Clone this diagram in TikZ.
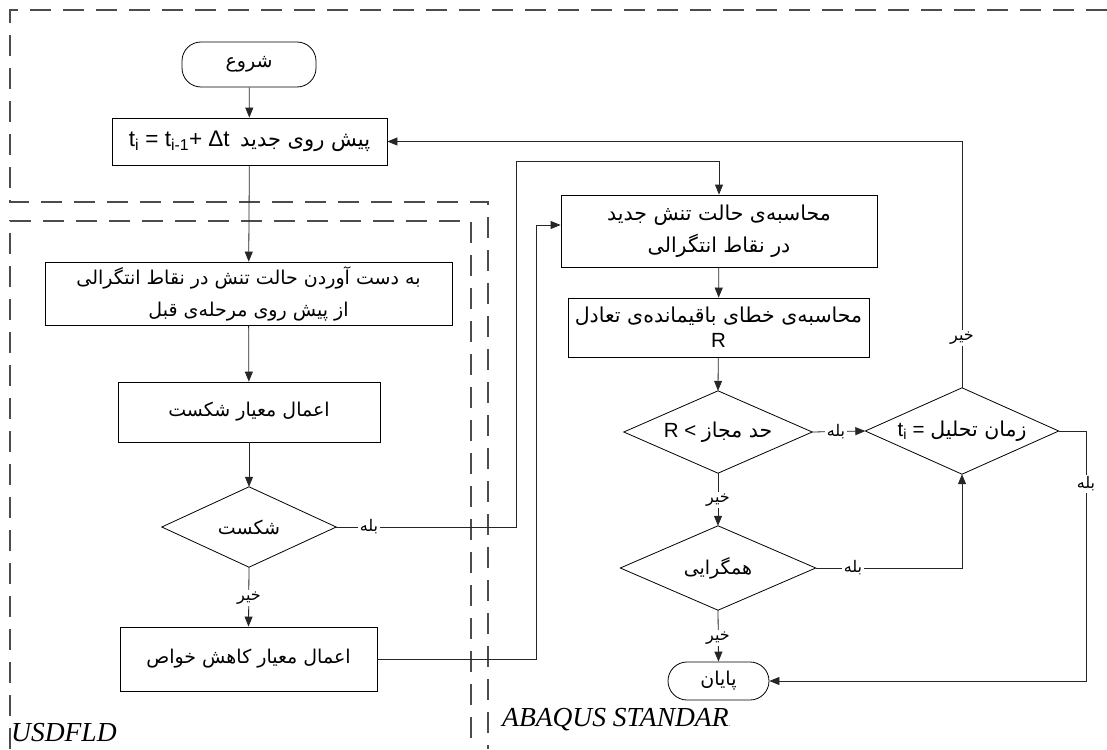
\documentclass[tikz,border=0pt]{standalone}
\usepackage{fontspec}
\setmainfont{Liberation Sans}
\newfontfamily\arabicfont[Script=Arabic]{DejaVu Sans}
\newfontfamily\timesfont{Liberation Serif}
\TeXXeTstate=1
\usetikzlibrary{arrows.meta,shapes.geometric}
\newcommand{\fatext}[1]{{\arabicfont\beginR #1\endR}}
\tikzset{
  frame/.style={draw=black!70, line width=1.1pt, dash pattern=on 21pt off 12pt},
  blk/.style={draw=black, line width=0.8pt, rectangle, align=center, inner sep=0pt,
              font=\fontsize{19}{32}\selectfont},
  bigtxt/.style={font=\fontsize{20.5}{32}\selectfont},
  term/.style={blk, rounded corners=19pt},
  dhold/.style={rectangle, align=center, inner sep=0pt, font=\fontsize{19}{24}\selectfont},
  diaedge/.style={draw=black, line width=0.8pt},
  conn/.style={draw=black!85, line width=0.8pt},
  arr/.style={conn, -{Triangle[length=10pt,width=8pt]}},
  lbl/.style={fill=white, inner sep=1.5pt, font=\fontsize{16}{16}\selectfont},
  region/.style={inner sep=0pt, font=\fontsize{27.5}{28}\selectfont\timesfont\itshape}
}
\begin{document}
\begin{tikzpicture}[x=1pt,y=-1pt]
\useasboundingbox (0,0) rectangle (1107,749);
% dashed regions
\draw[frame] (1107,10) -- (10,10) -- (10,202) -- (488,202) -- (488,749);
\draw[frame] (10,749) -- (10,221) -- (471,221) -- (471,749);

% nodes
\node[term, minimum width=134pt, minimum height=45pt] (start) at (249,64.5) {\fatext{شروع}};
\node[blk, minimum width=275pt, minimum height=47pt, font=\fontsize{21}{26}\selectfont] (b1) at (249.5,141.5)
  {{\fontsize{22.5}{26}\selectfont t\textsubscript{i} = t\textsubscript{i-1}+ Δt}\enspace\fatext{پیش روی جدید}};
\node[blk, minimum width=407pt, minimum height=63pt] (b2) at (248.5,293.5)
  {\fatext{به دست آوردن حالت تنش در نقاط انتگرالی}\\\fatext{از پیش روی مرحله‌ی قبل}};
\node[blk, minimum width=262pt, minimum height=60pt] (b3) at (249,412) {\fatext{اعمال معیار شکست}};
\node[dhold, minimum width=174pt, minimum height=80pt] (d1) at (249,527) {\fatext{شکست}};
\draw[diaedge] (d1.north) -- (d1.east) -- (d1.south) -- (d1.west) -- cycle;
\node[blk, minimum width=257pt, minimum height=64pt] (b4) at (248.5,659) {\fatext{اعمال معیار کاهش خواص}};

\node[blk, bigtxt, minimum width=316pt, minimum height=72pt] (b5) at (719,231)
  {\fatext{محاسبه‌ی حالت تنش جدید}\\\fatext{در نقاط انتگرالی}};
\node[blk, minimum width=301pt, minimum height=59pt, font=\fontsize{20.5}{25}\selectfont] (b6) at (718.5,327.5)
  {\fatext{محاسبه‌ی خطای باقیمانده‌ی تعادل}\\R};
\node[dhold, bigtxt, minimum width=188pt, minimum height=82pt] (dR) at (718,432) {R < \fatext{حد مجاز}};
\draw[diaedge] (dR.north) -- (dR.east) -- (dR.south) -- (dR.west) -- cycle;
\node[dhold, bigtxt, minimum width=193pt, minimum height=86pt] (dT) at (962,431)
  {t\textsubscript{i} = \fatext{زمان تحلیل}};
\draw[diaedge] (dT.north) -- (dT.east) -- (dT.south) -- (dT.west) -- cycle;
\node[dhold, minimum width=195pt, minimum height=84pt] (dH) at (718,568) {\fatext{همگرایی}};
\draw[diaedge] (dH.north) -- (dH.east) -- (dH.south) -- (dH.west) -- cycle;
\node[term, minimum width=101pt, minimum height=38pt] (end) at (718.5,681) {\fatext{پایان}};

\node[region, anchor=west] (usd) at (11,733) {USDFLD};
\node[region, anchor=west] (aba) at (502,720) {ABAQUS STANDAR{\fontsize{7}{7}\selectfont.}};

% helper coordinates
\coordinate (c1) at (516,161);
\coordinate (c2) at (536,225);
\coordinate (c3) at (1086,560);

% connectors
\draw[arr] (start) -- (b1);
\draw[arr] (b1) -- (b2);
\draw[arr] (b2) -- (b3);
\draw[arr] (b3) -- (d1.north);
\draw[arr] (d1.south) -- (b4.north);
\draw[arr] (d1.east) -| (c1) -| (b5.north);
\draw[arr] (b4.east) -| (c2) -- (c2 -| b5.west);
\draw[arr] (b5) -- (b6);
\draw[arr] (b6) -- (dR.north);
\draw[arr] (dR.east) -- (dT.west);
\draw[arr] (dR.south) -- (dH.north);
\draw[arr] (dH.south) -- (end.north);
\draw[arr] (dH.east) -| (dT.south);
\draw[arr] (dT.north) |- (b1.east);
\draw[arr] (dT.east) -| (c3) |- (end.east);

% labels
\node[lbl] (l1) at (249,598) {\fatext{خیر}};
\node[lbl] (l2) at (369,527) {\fatext{بله}};
\node[lbl] (l3) at (836,432) {\fatext{بله}};
\node[lbl] (l4) at (718,500) {\fatext{خیر}};
\node[lbl] (l5) at (718,638) {\fatext{خیر}};
\node[lbl] (l6) at (853,568) {\fatext{بله}};
\node[lbl] (l7) at (962,338) {\fatext{خیر}};
\node[lbl] (l8) at (1086,484) {\fatext{بله}};
\end{tikzpicture}
\end{document}
